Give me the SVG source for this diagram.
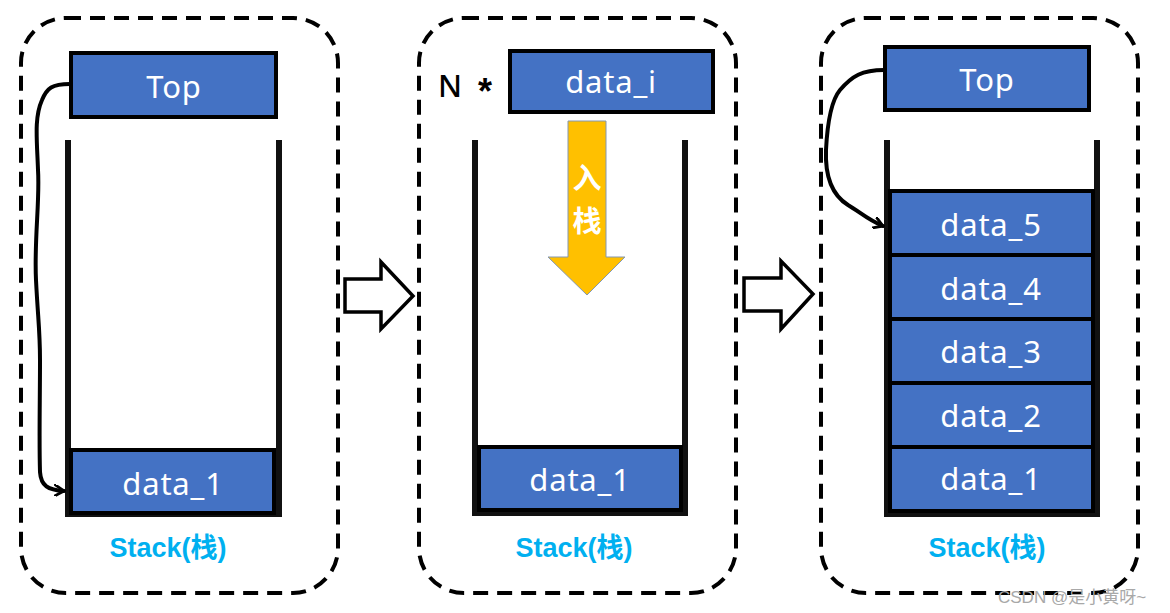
<svg xmlns="http://www.w3.org/2000/svg" width="1170" height="613" viewBox="0 0 1170 613">
<defs>
<style>
.panel{fill:none;stroke:#000;stroke-width:4;stroke-dasharray:15 9}
.box{fill:#4472C4;stroke:#000;stroke-width:4}
.wall{fill:none;stroke:#111;stroke-width:6;stroke-linejoin:miter}
.bt{fill:#fff;font-family:"Noto Sans","Open Sans",sans-serif;font-size:31px;letter-spacing:0.8px;text-anchor:middle;dominant-baseline:central}
.lbl{fill:#00B0F0;font-family:"Liberation Sans","Noto Sans CJK SC",sans-serif;font-weight:bold;font-size:27px;text-anchor:middle}
.hollow{fill:#fff;stroke:#000;stroke-width:3.5;stroke-linejoin:miter}
.curve{fill:none;stroke:#000;stroke-width:4;stroke-linecap:round}
</style>
<marker id="ah" viewBox="0 0 12 12" refX="10" refY="6" markerWidth="12" markerHeight="12" markerUnits="userSpaceOnUse" orient="auto">
<path d="M1 0.5 L10 6 L1 11.5" fill="none" stroke="#000" stroke-width="2.8" stroke-linecap="round" stroke-linejoin="round"/>
</marker>
</defs>
<rect width="1170" height="613" fill="#fff"/>

<g id="panel1">
<rect class="panel" x="21" y="18" width="317" height="575" rx="45" ry="45"/>
<path class="wall" d="M68 140 V514 H279 V140"/>
<g id="p1-top"><rect class="box" x="71" y="53" width="205" height="64"/><text class="bt" x="174" y="86">Top</text></g>
<g id="p1-data1"><rect class="box" x="71" y="450" width="203" height="63"/><text class="bt" x="173" y="483">data_1</text></g>
<text class="lbl" x="168" y="557">Stack(栈)</text>
</g>

<g id="panel2">
<rect class="panel" x="419" y="18" width="317" height="575" rx="45" ry="45"/>
<path class="wall" d="M475 140 V513 H685 V140"/>
<text x="438" y="97" font-family="Noto Sans,Liberation Sans,sans-serif" font-size="31" font-weight="500" fill="#000">N</text>
<text x="478" y="104" font-family="Liberation Sans,Arial,sans-serif" font-size="36" font-weight="bold" fill="#000">*</text>
<g id="p2-datai"><rect class="box" x="510" y="51" width="203" height="61"/><text class="bt" x="611" y="81">data_i</text></g>
<g id="p2-data1"><rect class="box" x="479" y="447" width="202" height="63"/><text class="bt" x="580" y="479">data_1</text></g>
<g id="push-arrow">
<path d="M568 121 H606 V257 H625 L587 295 L548 257 H568 Z" fill="#FFC000" stroke="#8497B0" stroke-width="1"/>
<text x="587" y="189" font-family="Noto Sans CJK SC,sans-serif" font-weight="bold" font-size="29" fill="#fff" text-anchor="middle">入</text>
<text x="587" y="232" font-family="Noto Sans CJK SC,sans-serif" font-weight="bold" font-size="29" fill="#fff" text-anchor="middle">栈</text>
</g>
<text class="lbl" x="574" y="557">Stack(栈)</text>
</g>

<g id="panel3">
<rect class="panel" x="821" y="18" width="317" height="575" rx="45" ry="45"/>
<path class="wall" d="M887 140 V514 H1097 V140"/>
<g id="p3-top"><rect class="box" x="885" y="47" width="204" height="63"/><text class="bt" x="987" y="79">Top</text></g>
<g id="p3-data5"><rect class="box" x="890" y="191" width="203" height="64"/><text class="bt" x="991" y="224">data_5</text></g>
<g id="p3-data4"><rect class="box" x="890" y="255" width="203" height="64"/><text class="bt" x="991" y="288">data_4</text></g>
<g id="p3-data3"><rect class="box" x="890" y="319" width="203" height="64"/><text class="bt" x="991" y="351">data_3</text></g>
<g id="p3-data2"><rect class="box" x="890" y="383" width="203" height="64"/><text class="bt" x="991" y="415">data_2</text></g>
<g id="p3-data1"><rect class="box" x="890" y="447" width="203" height="64"/><text class="bt" x="991" y="478">data_1</text></g>
<text class="lbl" x="987" y="557">Stack(栈)</text>
</g>

<g id="connectors">
<path class="curve" marker-end="url(#ah)" d="M70 84 C52 84 47 88 42 100 C34 118 37 140 38 170 C40 200 34 240 36 280 C38 320 40 330 40 360 C40 400 39 440 40 472 C41 486 48 490 64 491"/>
<path class="curve" marker-end="url(#ah)" d="M884 70 C862 70 852 76 840 90 C830 102 827 130 826 150 C825 175 832 195 848 205 C860 212 868 220 883 226"/>
<path class="hollow" d="M345 279 H381 V262 L413 296 L381 329 V312 H345 Z"/>
<path class="hollow" d="M744 278 H781 V261 L813 294 L781 329 V311 H744 Z"/>
</g>

<text x="998" y="603" font-family="Liberation Sans,Noto Sans CJK SC,sans-serif" font-size="17" fill="#a8a8a8">CSDN @是小黄呀~</text>
</svg>
